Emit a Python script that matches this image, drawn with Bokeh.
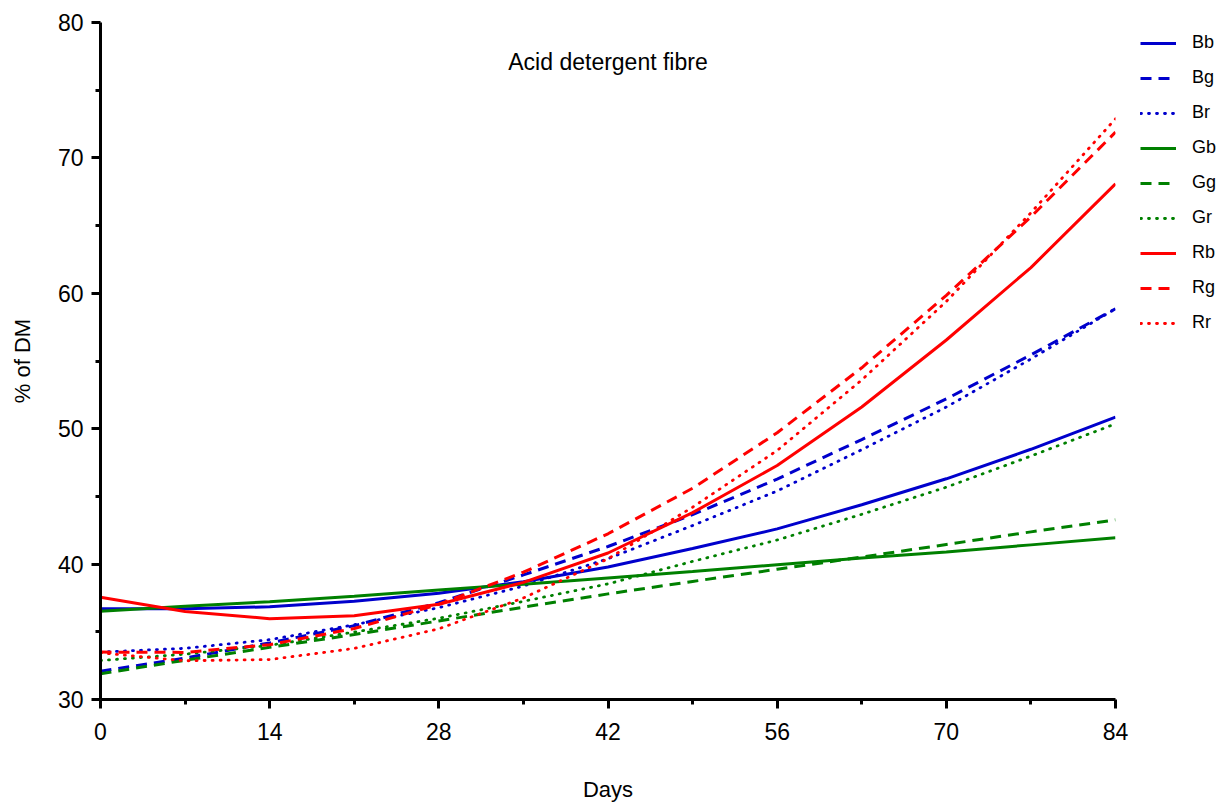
from bokeh.plotting import figure
from bokeh.models import Legend, LegendItem, FixedTicker, Label, Range1d
from bokeh.layouts import row
from bokeh.embed import file_html
from bokeh.resources import INLINE

days = [0, 7, 14, 21, 28, 35, 42, 49, 56, 63, 70, 77, 84]

Bb = [36.70, 36.70, 36.85, 37.26, 37.85, 38.70, 39.78, 41.15, 42.60, 44.38, 46.30, 48.48, 50.85]
Bg = [32.09, 33.06, 34.18, 35.45, 37.15, 39.20, 41.30, 43.65, 46.28, 49.20, 52.20, 55.45, 58.86]
Br = [33.50, 33.78, 34.42, 35.52, 36.78, 38.38, 40.40, 42.85, 45.40, 48.45, 51.60, 55.15, 58.86]
Gb = [36.52, 36.88, 37.22, 37.62, 38.08, 38.52, 38.98, 39.45, 39.95, 40.45, 40.90, 41.42, 41.94]
Gg = [31.90, 32.90, 33.85, 34.80, 35.80, 36.82, 37.80, 38.72, 39.62, 40.52, 41.45, 42.38, 43.27]
Gr = [32.88, 33.35, 34.00, 34.98, 36.00, 37.25, 38.54, 40.20, 41.78, 43.68, 45.68, 47.98, 50.36]
Rb = [37.55, 36.50, 35.97, 36.18, 37.04, 38.65, 40.82, 43.80, 47.28, 51.60, 56.55, 61.90, 68.09]
Rg = [33.50, 33.48, 34.05, 35.24, 37.03, 39.40, 42.24, 45.60, 49.70, 54.50, 59.85, 65.65, 71.90]
Rr = [33.45, 32.86, 32.95, 33.77, 35.22, 37.50, 40.39, 44.20, 48.39, 53.60, 59.40, 65.95, 72.89]

series_names = ["Bb", "Bg", "Br", "Gb", "Gg", "Gr", "Rb", "Rg", "Rr"]
series_vals = [Bb, Bg, Br, Gb, Gg, Gr, Rb, Rg, Rr]

x_ticks = [0, 14, 28, 42, 56, 70, 84]
y_ticks = [30, 40, 50, 60, 70, 80]
title_text = "Acid detergent fibre"
x_label = "Days"
y_label = "% of DM"

BLUE = "#0000CC"
GREEN = "#008000"
RED = "#FF0000"
colors = {"B": BLUE, "G": GREEN, "R": RED}
FONT = "Liberation Sans"

p = figure(width=1135, height=804, output_backend="svg", toolbar_location=None,
           x_range=Range1d(0, 84), y_range=Range1d(30, 80),
           min_border_left=100, min_border_right=20, min_border_top=22, min_border_bottom=105)
p.outline_line_color = None
p.xgrid.visible = False
p.ygrid.visible = False
p.background_fill_color = "white"
p.border_fill_color = "white"

for ax in (p.xaxis[0], p.yaxis[0]):
    ax.axis_line_width = 3
    ax.axis_line_color = "black"
    ax.major_tick_line_width = 3
    ax.minor_tick_line_width = 3
    ax.major_tick_in = 0
    ax.minor_tick_in = 0
    ax.major_tick_out = 9
    ax.minor_tick_out = 5
    ax.major_label_text_font = FONT
    ax.major_label_text_font_size = "23px"
    ax.major_label_text_color = "black"
    ax.axis_label_text_font = FONT
    ax.axis_label_text_font_size = "22px"
    ax.axis_label_text_font_style = "normal"
    ax.axis_label_text_color = "black"

p.xaxis.ticker = FixedTicker(ticks=x_ticks, minor_ticks=[7, 21, 35, 49, 63, 77])
p.yaxis.ticker = FixedTicker(ticks=y_ticks, minor_ticks=[35, 45, 55, 65, 75])
p.xaxis.axis_label = x_label
p.yaxis.axis_label = y_label
p.xaxis.major_label_standoff = 14
p.xaxis.axis_label_standoff = 34
p.yaxis.major_label_standoff = 8
p.yaxis.axis_label_standoff = 20

dashes = {"b": "solid", "g": "11 7", "r": "1 7"}


def style(kind, c):
    if kind == "r":
        return dict(line_color=c, line_width=2.8, line_dash=dashes[kind], line_cap="round")
    return dict(line_color=c, line_width=3, line_dash=dashes[kind])


for name, vals in zip(series_names, series_vals):
    p.line(days, vals, **style(name[1], colors[name[0]]))

p.add_layout(Label(x=42, y=77.1, text=title_text, text_align="center", text_baseline="middle",
                   text_font=FONT, text_font_size="23px", text_color="black"))

# legend panel on the right (its frame lines up with the main frame: 22..699)
q = figure(width=94, height=804, output_backend="svg", toolbar_location=None,
           x_range=Range1d(0, 1), y_range=Range1d(0, 1),
           min_border_left=0, min_border_right=0, min_border_top=22, min_border_bottom=105)
q.axis.visible = False
q.xgrid.visible = False
q.ygrid.visible = False
q.outline_line_color = None
q.background_fill_color = "white"
q.border_fill_color = "white"

nan = float("nan")
items = []
for name in series_names:
    r = q.line([0, 0], [nan, nan], **style(name[1], colors[name[0]]))
    items.append(LegendItem(label=name, renderers=[r]))

legend = Legend(items=items, location=(5, 366), orientation="vertical",
                glyph_width=36, glyph_height=18, label_height=18, spacing=14,
                padding=0, margin=0, label_standoff=16,
                label_text_font=FONT, label_text_font_size="18px", label_text_color="black",
                border_line_alpha=0, background_fill_alpha=0)
q.add_layout(legend, "center")

layout = row(p, q, spacing=0)
open("out.html", "w").write(file_html(layout, INLINE))
